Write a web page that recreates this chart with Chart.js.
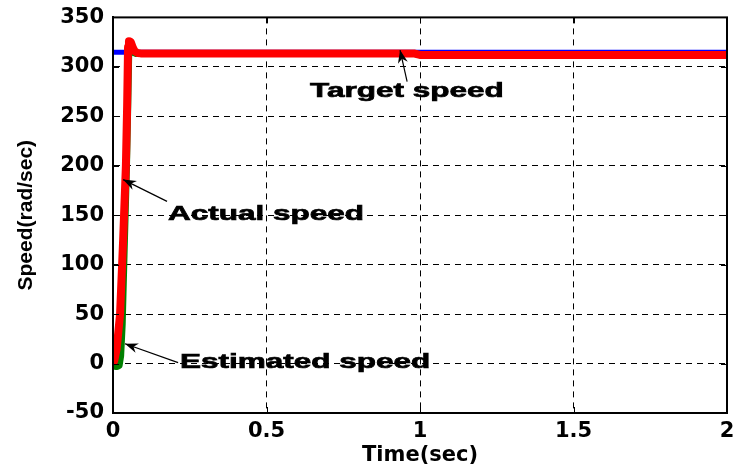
<!DOCTYPE html>
<html>
<head>
<meta charset="utf-8">
<script src="https://cdn.jsdelivr.net/npm/chart.js@4.4.1/dist/chart.umd.min.js"></script>
<style>
html,body{margin:0;padding:0;background:#fff;}
canvas{display:block;}
</style>
</head>
<body>
<canvas id="chart" width="751" height="468"></canvas>
<script>
// tick values
const xTicks=[0,0.5,1,1.5,2];
const yTicks=[-50,0,50,100,150,200,250,300,350];

// target speed (rad/sec)
const targetT=[0,2];
const targetW=[314.8,314.8];

// actual speed
const actualT=[0.004,0.012,0.023,0.033,0.042,0.046,0.049,0.052,0.058,0.064,0.07,0.08,0.09,0.5,0.98,1.0,1.5,2];
const actualW=[3,15,50,125,200,260,320,326,325,320,316,314,313.6,313.6,313.6,312,312,312];

// estimated speed
const estT=[0.004,0.009,0.014,0.02,0.025,0.03,0.036,0.044,0.048,0.051,0.054,0.058,0.064,0.075,0.98,1.0,2];
const estW=[-1,-3,-3,-2,8,40,110,200,260,310,320,318,315,313.6,313.6,312,312];

// text notes with arrows, in data units
const notes=[
{text:'Target speed',x:0.642,y:275,tipX:0.935,tipY:317,tailX:0.958,tailY:285},
{text:'Actual speed',x:0.179,y:151,tipX:0.033,tipY:186,tailX:0.176,tailY:164},
{text:'Estimated speed',x:0.218,y:1,tipX:0.039,tipY:20,tailX:0.212,tailY:1}
];

function pts(t,w){
return t.map((v,i)=>({x:v,y:w[i]}));
}

const boxPlugin={
id:'box',
afterDatasetsDraw(chart){
const ctx=chart.ctx;
const xs=chart.scales.x;
const ys=chart.scales.y;
ctx.save();
ctx.fillStyle='#000';
ctx.strokeStyle='#000';
notes.forEach(n=>{
const tx=xs.getPixelForValue(n.tipX),ty=ys.getPixelForValue(n.tipY);
const lx=xs.getPixelForValue(n.tailX),ly=ys.getPixelForValue(n.tailY);
ctx.lineWidth=1.2;
ctx.beginPath();
ctx.moveTo(lx,ly);
ctx.lineTo(tx,ty);
ctx.stroke();
const a=Math.atan2(ty-ly,tx-lx);
const c=Math.cos(a),s=Math.sin(a);
ctx.beginPath();
ctx.moveTo(tx,ty);
ctx.lineTo(tx-13*c+5*s,ty-13*s-5*c);
ctx.lineTo(tx-9*c,ty-9*s);
ctx.lineTo(tx-13*c-5*s,ty-13*s+5*c);
ctx.closePath();
ctx.fill();
const px=xs.getPixelForValue(n.x),py=ys.getPixelForValue(n.y);
ctx.save();
ctx.translate(px,py);
ctx.scale(1.5,1);
ctx.font='bold 21px "Liberation Sans"';
ctx.textAlign='left';
ctx.textBaseline='middle';
ctx.lineWidth=0.7;
ctx.fillText(n.text,0,0);
ctx.strokeText(n.text,0,0);
ctx.restore();
});
ctx.restore();
},
afterDraw(chart){
const ctx=chart.ctx;
const a=chart.chartArea;
const xs=chart.scales.x;
const ys=chart.scales.y;
ctx.save();
ctx.strokeStyle='#000';
ctx.lineWidth=1;
ctx.beginPath();
xTicks.forEach(v=>{
const p=Math.round(xs.getPixelForValue(v))+0.5;
ctx.moveTo(p,a.bottom);ctx.lineTo(p,a.bottom-6);
ctx.moveTo(p,a.top);ctx.lineTo(p,a.top+6);
});
yTicks.forEach(v=>{
const p=Math.round(ys.getPixelForValue(v))+0.5;
ctx.moveTo(a.left,p);ctx.lineTo(a.left+6,p);
ctx.moveTo(a.right,p);ctx.lineTo(a.right-6,p);
});
ctx.stroke();
ctx.lineWidth=2;
ctx.strokeRect(a.left,a.top,a.right-a.left,a.bottom-a.top);
ctx.restore();
}
};

const gridStyle={
color:'#000',
lineWidth:1,
drawTicks:false
};

const tickFont={family:'DejaVu Sans',size:21,weight:'bold',lineHeight:0.8};

new Chart(document.getElementById('chart'),{
type:'line',
data:{
datasets:[
{label:'Target speed',data:pts(targetT,targetW),borderColor:'#0000ff',borderWidth:5,pointRadius:0,order:3},
{label:'Estimated speed',data:pts(estT,estW),borderColor:'#008000',borderWidth:7,pointRadius:0,borderCapStyle:'round',borderJoinStyle:'round',order:2},
{label:'Actual speed',data:pts(actualT,actualW),borderColor:'#ff0000',borderWidth:8,pointRadius:0,borderCapStyle:'round',borderJoinStyle:'round',order:1}
]
},
options:{
responsive:false,
animation:false,
layout:{padding:{top:16,right:24,left:0,bottom:0}},
plugins:{legend:{display:false},tooltip:{enabled:false}},
scales:{
x:{
type:'linear',
min:0,max:2,
afterBuildTicks:s=>{s.ticks=xTicks.map(v=>({value:v}));},
afterFit:s=>{s.height=55;},
grid:gridStyle,
border:{display:true,color:'#000',width:2,dash:[6,5]},
ticks:{color:'#000',padding:10,maxRotation:0,font:tickFont,callback:v=>String(v)},
title:{display:true,text:'Time(sec)',color:'#000',padding:{top:0,bottom:0},font:{family:'DejaVu Sans',size:21,weight:'bold'}}
},
y:{
min:-50,max:350,
afterBuildTicks:s=>{s.ticks=yTicks.map(v=>({value:v}));},
afterFit:s=>{s.width=113;},
grid:gridStyle,
border:{display:true,color:'#000',width:2,dash:[6,5]},
ticks:{color:'#000',padding:9,font:tickFont,callback:v=>String(v)},
title:{display:true,text:'Speed(rad/sec)',color:'#000',padding:{top:14,bottom:0},font:{family:'Liberation Sans',size:21,weight:'bold'}}
}
}
},
plugins:[boxPlugin]
});
</script>
</body>
</html>
